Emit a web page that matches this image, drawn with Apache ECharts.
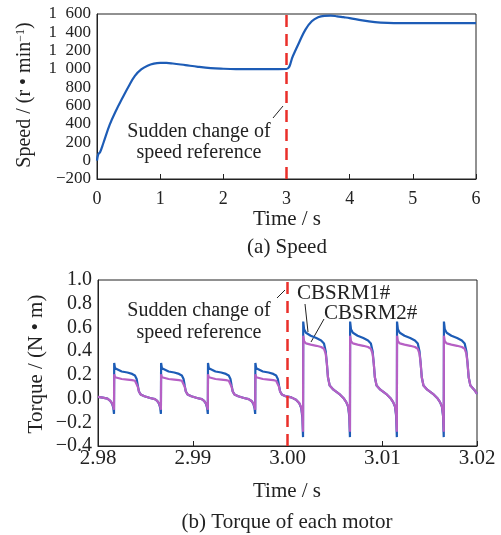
<!DOCTYPE html>
<html><head><meta charset="utf-8">
<script src="https://cdn.jsdelivr.net/npm/echarts@6/dist/echarts.min.js"></script>
<style>html,body{margin:0;padding:0;background:#fff}#c{width:501px;height:535px}</style>
</head><body><div id="c"></div>
<script>
// ---- (a) Speed ----
var speedTime = [0,0.02,0.05,0.1,0.2,0.3,0.4,0.5,0.6,0.7,0.8,0.9,1.0,1.1,1.2,1.4,1.6,1.8,2.0,2.2,2.5,2.8,3.0,3.1,3.2,3.3,3.4,3.5,3.6,3.7,3.8,3.9,4.0,4.2,4.4,4.6,4.8,5.0,5.5,6.0];
var speedValue = [0,70,95,190,390,545,680,810,925,995,1035,1058,1066,1066,1060,1042,1024,1010,1003,999,998,999,1000,1140,1290,1430,1520,1565,1580,1582,1575,1565,1555,1530,1512,1503,1500,1500,1500,1500];
var speedTicks = {'-200':'\u2212200','0':'0','200':'200','400':'400','600':'600','800':'800','1000':'1\u2002000','1200':'1\u2002200','1400':'1\u2002400','1600':'1\u2002600'};
var speedTimeTicks = ['0','1','2','3','4','5','6'];
var stepTime = 3;

// ---- (b) Torque ----
var torqueTime = [
2.98000,2.98050,2.98100,2.98130,2.98150,2.98162,2.98169,2.98171,2.98180,2.98200,2.98250,2.98310,2.98360,2.98390,2.98408,2.98420,2.98432,2.98450,2.98490,2.98550,2.98600,
2.98625,2.98645,2.98657,2.98664,2.98666,2.98675,2.98695,2.98745,2.98805,2.98855,2.98885,2.98903,2.98915,2.98927,2.98945,2.98985,2.99045,2.99095,
2.99120,2.99140,2.99152,2.99159,2.99161,2.99170,2.99190,2.99240,2.99300,2.99350,2.99380,2.99398,2.99410,2.99422,2.99440,2.99480,2.99540,2.99590,
2.99620,2.99640,2.99652,2.99659,2.99661,2.99670,2.99690,2.99740,2.99800,2.99850,2.99880,2.99898,2.99910,2.99922,2.99940,2.99980,3.00040,3.00090,
3.00125,3.00145,3.00157,3.00164,3.00166,3.00175,3.00195,3.00245,3.00305,3.00355,3.00385,3.00403,3.00415,3.00427,3.00445,3.00485,3.00545,3.00595,
3.00620,3.00640,3.00652,3.00659,3.00661,3.00670,3.00690,3.00740,3.00800,3.00850,3.00880,3.00898,3.00910,3.00922,3.00940,3.00980,3.01040,3.01090,
3.01115,3.01135,3.01147,3.01154,3.01156,3.01165,3.01185,3.01235,3.01295,3.01345,3.01375,3.01393,3.01405,3.01417,3.01435,3.01475,3.01535,3.01585,
3.01610,3.01630,3.01642,3.01649,3.01651,3.01660,3.01680,3.01730,3.01790,3.01840,3.01870,3.01888,3.01900,3.01912,3.01930,3.01970,3.02000];
var torqueCBSRM1 = [
0.015,0.008,0.000,-0.020,-0.045,-0.080,-0.130,0.300,0.255,0.240,0.228,0.220,0.208,0.195,0.165,0.110,0.060,0.035,0.020,0.005,-0.005,
-0.020,-0.045,-0.080,-0.130,0.300,0.255,0.240,0.228,0.220,0.208,0.195,0.165,0.110,0.060,0.035,0.020,0.005,-0.005,
-0.020,-0.045,-0.080,-0.130,0.300,0.255,0.240,0.228,0.220,0.208,0.195,0.165,0.110,0.060,0.035,0.020,0.005,-0.005,
-0.020,-0.045,-0.080,-0.130,0.300,0.255,0.240,0.228,0.220,0.208,0.195,0.165,0.110,0.060,0.035,0.020,0.010,-0.010,
-0.040,-0.080,-0.160,-0.325,0.650,0.585,0.555,0.530,0.510,0.490,0.465,0.400,0.300,0.180,0.110,0.075,0.040,0.000,
-0.030,-0.070,-0.150,-0.325,0.650,0.585,0.555,0.530,0.510,0.490,0.465,0.400,0.300,0.180,0.110,0.075,0.040,0.000,
-0.030,-0.070,-0.150,-0.325,0.650,0.585,0.555,0.530,0.510,0.490,0.465,0.400,0.300,0.180,0.110,0.075,0.040,0.000,
-0.030,-0.070,-0.150,-0.325,0.650,0.585,0.555,0.530,0.510,0.490,0.465,0.400,0.300,0.180,0.110,0.075,0.040];
var torqueCBSRM2 = [
0.015,0.008,0.000,-0.020,-0.040,-0.070,-0.095,0.205,0.180,0.170,0.165,0.160,0.155,0.150,0.135,0.100,0.060,0.035,0.020,0.005,-0.005,
-0.020,-0.040,-0.070,-0.095,0.205,0.180,0.170,0.165,0.160,0.155,0.150,0.135,0.100,0.060,0.035,0.020,0.005,-0.005,
-0.020,-0.040,-0.070,-0.095,0.205,0.180,0.170,0.165,0.160,0.155,0.150,0.135,0.100,0.060,0.035,0.020,0.005,-0.005,
-0.020,-0.040,-0.070,-0.095,0.205,0.180,0.170,0.165,0.160,0.155,0.150,0.135,0.100,0.060,0.035,0.020,0.010,-0.010,
-0.040,-0.075,-0.140,-0.280,0.530,0.485,0.465,0.455,0.445,0.435,0.420,0.380,0.300,0.180,0.110,0.075,0.040,0.000,
-0.030,-0.065,-0.135,-0.280,0.530,0.485,0.465,0.455,0.445,0.435,0.420,0.380,0.300,0.180,0.110,0.075,0.040,0.000,
-0.030,-0.065,-0.135,-0.280,0.530,0.485,0.465,0.455,0.445,0.435,0.420,0.380,0.300,0.180,0.110,0.075,0.040,0.000,
-0.030,-0.065,-0.135,-0.280,0.530,0.485,0.465,0.455,0.445,0.435,0.420,0.380,0.300,0.180,0.110,0.075,0.040];
var torqueTicks = ['\u22120.4','\u22120.2','0.0','0.2','0.4','0.6','0.8','1.0'];
var torqueTimeTicks = ['2.98','2.99','3.00','3.01','3.02'];
var seriesNames = ['CBSRM1#','CBSRM2#'];

function pairs(xs, ys){ var o=[]; for(var i=0;i<xs.length;i++) o.push([xs[i], ys[i]]); return o; }

var FONT = '"Liberation Serif","Times New Roman",serif';
var BLUE = '#1d5cb6', PINK = '#b660c4', RED = '#ea2f2a', INK = '#222';

var chart = echarts.init(document.getElementById('c'), null, {renderer:'canvas'});

function xAx(gi, min, max, interval, labels, fs, margin){
  return {type:'value', gridIndex:gi, min:min, max:max, interval:interval,
    axisLine:{show:true, onZero:false, lineStyle:{color:INK, width:1}},
    axisTick:{show:true, inside:true, length:5, lineStyle:{color:INK}},
    splitLine:{show:false},
    axisLabel:{fontFamily:FONT, fontSize:fs, color:INK, margin:margin,
      formatter:function(v){ var k=Math.round((v-min)/interval); return labels[k]; }}};
}

var option = {
  animation:false,
  backgroundColor:'#fff',
  grid:[
    {left:97, top:14, width:379, height:165, show:true, borderColor:INK, borderWidth:1},
    {left:98, top:280, width:379, height:166, show:true, borderColor:INK, borderWidth:1}
  ],
  xAxis:[
    xAx(0, 0, 6, 1, speedTimeTicks, 18, 11),
    xAx(1, 2.98, 3.02, 0.01, torqueTimeTicks, 21, 2)
  ],
  yAxis:[
    {type:'value', gridIndex:0, min:-200, max:1600, interval:200,
     axisLine:{show:true, onZero:false, lineStyle:{color:INK}}, axisTick:{show:false}, splitLine:{show:false},
     axisLabel:{fontFamily:FONT, fontSize:17, color:INK, margin:6,
       formatter:function(v){ return speedTicks[String(Math.round(v))]; }}},
    {type:'value', gridIndex:1, min:-0.4, max:1.0, interval:0.2,
     axisLine:{show:true, onZero:false, lineStyle:{color:INK}}, axisTick:{show:false}, splitLine:{show:false},
     axisLabel:{fontFamily:FONT, fontSize:20, color:INK, margin:6,
       formatter:function(v){ return torqueTicks[Math.round((v+0.4)/0.2)]; }}}
  ],
  series:[
    {type:'line', xAxisIndex:0, yAxisIndex:0, data:pairs(speedTime, speedValue), smooth:0.4,
     showSymbol:false, lineStyle:{color:BLUE, width:2.2}, z:3,
     markLine:{silent:true, symbol:'none', label:{show:false},
       lineStyle:{color:RED, width:2.5, type:[12,7]}, data:[{xAxis:stepTime}]}},
    {type:'line', name:seriesNames[0], xAxisIndex:1, yAxisIndex:1, data:pairs(torqueTime, torqueCBSRM1),
     showSymbol:false, lineStyle:{color:BLUE, width:2.2}, z:3},
    {type:'line', name:seriesNames[1], xAxisIndex:1, yAxisIndex:1, data:pairs(torqueTime, torqueCBSRM2),
     showSymbol:false, lineStyle:{color:PINK, width:2.2}, z:4,
     markLine:{silent:true, symbol:'none', label:{show:false},
       lineStyle:{color:RED, width:2.5, type:[12,7]}, data:[{xAxis:stepTime}]}}
  ],
  graphic:[
    {type:'text', x:25, y:95, rotation:Math.PI/2, style:{text:'Speed / (r \u2022 min{sup|\u22121})', font:'20px '+FONT, fill:INK, align:'center', verticalAlign:'middle',
      rich:{sup:{fontSize:12, fontFamily:FONT, verticalAlign:'top', padding:[0,0,9,0]}}}},
    {type:'text', x:36, y:364, rotation:Math.PI/2, style:{text:'Torque / (N \u2022 m)', font:'21px '+FONT, fill:INK, align:'center', verticalAlign:'middle'}},
    {type:'text', x:287, y:219, style:{text:'Time / s', font:'21px '+FONT, fill:INK, align:'center', verticalAlign:'middle'}},
    {type:'text', x:287, y:247, style:{text:'(a) Speed', font:'21px '+FONT, fill:INK, align:'center', verticalAlign:'middle'}},
    {type:'text', x:287, y:491, style:{text:'Time / s', font:'21px '+FONT, fill:INK, align:'center', verticalAlign:'middle'}},
    {type:'text', x:287, y:522, style:{text:'(b) Torque of each motor', font:'21px '+FONT, fill:INK, align:'center', verticalAlign:'middle'}},
    {type:'text', x:199, y:132, style:{text:'Sudden change of', font:'20px '+FONT, fill:INK, align:'center', verticalAlign:'middle'}},
    {type:'text', x:199, y:153, style:{text:'speed reference', font:'20px '+FONT, fill:INK, align:'center', verticalAlign:'middle'}},
    {type:'line', shape:{x1:273, y1:118, x2:283, y2:106}, style:{stroke:INK, lineWidth:1}},
    {type:'text', x:199, y:311, style:{text:'Sudden change of', font:'20px '+FONT, fill:INK, align:'center', verticalAlign:'middle'}},
    {type:'text', x:199, y:333, style:{text:'speed reference', font:'20px '+FONT, fill:INK, align:'center', verticalAlign:'middle'}},
    {type:'line', shape:{x1:277, y1:298, x2:285, y2:290}, style:{stroke:INK, lineWidth:1}},
    {type:'text', x:297, y:293, style:{text:seriesNames[0], font:'21px '+FONT, fill:INK, align:'left', verticalAlign:'middle'}},
    {type:'text', x:324, y:313, style:{text:seriesNames[1], font:'21px '+FONT, fill:INK, align:'left', verticalAlign:'middle'}},
    {type:'line', shape:{x1:305, y1:304, x2:308, y2:332}, style:{stroke:INK, lineWidth:1}},
    {type:'line', shape:{x1:324, y1:319, x2:311, y2:342}, style:{stroke:INK, lineWidth:1}}
  ]
};
chart.setOption(option);
</script></body></html>
